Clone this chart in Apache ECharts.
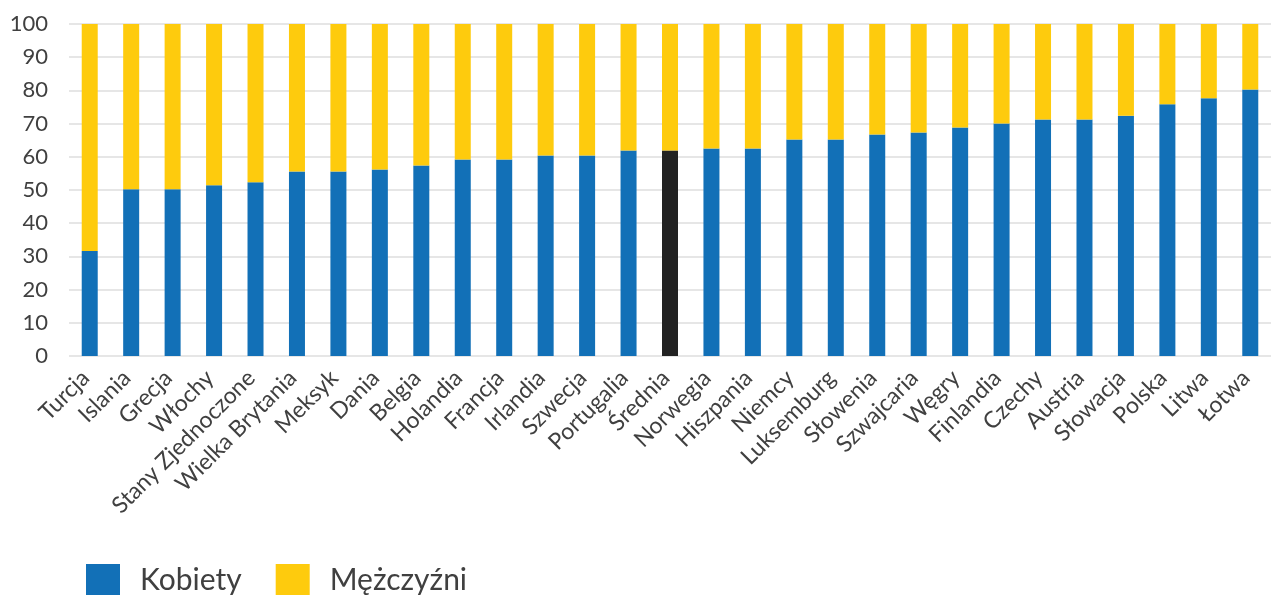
<!DOCTYPE html>
<html>
<head>
<meta charset="utf-8">
<script src="https://cdn.jsdelivr.net/npm/echarts@6/dist/echarts.min.js"></script>
<style>
  html, body { margin: 0; padding: 0; background: #fff; }
  #main { width: 1271px; height: 595px; }
</style>
</head>
<body>
<div id="main"></div>
<script>
const countries = ['Turcja', 'Islania', 'Grecja', 'Włochy', 'Stany Zjednoczone', 'Wielka Brytania', 'Meksyk', 'Dania',
  'Belgia', 'Holandia', 'Francja', 'Irlandia', 'Szwecja', 'Portugalia', 'Średnia', 'Norwegia', 'Hiszpania', 'Niemcy',
  'Luksemburg', 'Słowenia', 'Szwajcaria', 'Węgry', 'Finlandia', 'Czechy', 'Austria', 'Słowacja', 'Polska', 'Litwa', 'Łotwa'];
const kobiety = [31.6, 50.2, 50.2, 51.4, 52.3, 55.6, 55.6, 56.2, 57.4, 59.2, 59.2, 60.4, 60.4, 61.9, 61.9, 62.5, 62.5, 65.2,
  65.2, 66.7, 67.3, 68.8, 70.0, 71.2, 71.2, 72.4, 75.8, 77.6, 80.3];
const mezczyzni = [68.4, 49.8, 49.8, 48.6, 47.7, 44.4, 44.4, 43.8, 42.6, 40.8, 40.8, 39.6, 39.6, 38.1, 38.1, 37.5, 37.5, 34.8,
  34.8, 33.3, 32.7, 31.2, 30.0, 28.8, 28.8, 27.6, 24.2, 22.4, 19.7];
const yTicks = [0, 10, 20, 30, 40, 50, 60, 70, 80, 90, 100];

const blue = '#1270b7';
const yellow = '#fecb0d';
const avgColor = '#222222';

let chart = echarts.init(document.getElementById('main'));
let option = {
  animation: false,
  textStyle: { fontFamily: 'Lato' },
  grid: { left: 69, right: -13, top: 24, bottom: 239, containLabel: false },
  legend: {
    left: 86,
    top: 564,
    padding: 0,
    itemWidth: 34,
    itemHeight: 32,
    itemGap: 34,
    icon: 'rect',
    textStyle: { fontSize: 30, color: '#404040', fontFamily: 'Lato', padding: [0, 0, 0, 15] },
    data: ['Kobiety', 'Mężczyźni']
  },
  xAxis: {
    type: 'category',
    data: countries,
    axisLine: { show: false },
    axisTick: { show: false },
    axisLabel: { rotate: 45, interval: 0, fontSize: 23, color: '#404040', margin: 14, padding: [0, 6, 0, 0], fontFamily: 'Lato' }
  },
  yAxis: {
    type: 'value',
    min: yTicks[0],
    max: yTicks[yTicks.length - 1],
    interval: 10,
    axisLine: { show: false },
    axisTick: { show: false },
    axisLabel: { fontSize: 22, color: '#404040', margin: 21, fontFamily: 'Lato' },
    splitLine: { lineStyle: { color: '#e6e6e6', width: 2 } }
  },
  series: [
    {
      name: 'Kobiety',
      type: 'bar',
      stack: 'total',
      barWidth: 16,
      itemStyle: { color: blue },
      data: kobiety.map((v, i) => countries[i] === 'Średnia' ? { value: v, itemStyle: { color: avgColor } } : v)
    },
    {
      name: 'Mężczyźni',
      type: 'bar',
      stack: 'total',
      barWidth: 16,
      itemStyle: { color: yellow },
      data: mezczyzni
    }
  ]
};
chart.setOption(option);
window.addEventListener('resize', function () {
  chart.resize();
});
</script>
</body>
</html>
